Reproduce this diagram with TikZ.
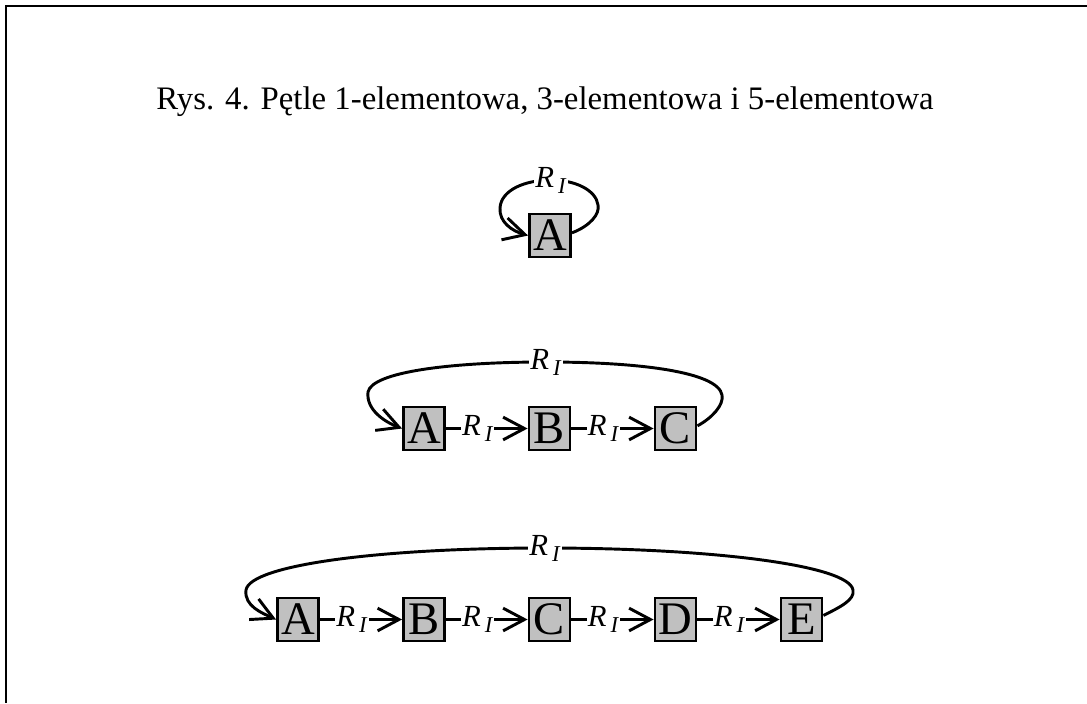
\documentclass[tikz,border=0pt]{standalone}
\usepackage{fontspec}
\setmainfont{Liberation Serif}
\usetikzlibrary{arrows.meta}
\definecolor{boxgray}{RGB}{192,192,192}
\newcommand{\RIlab}{\textit{R}\kern3pt\raisebox{-4.5pt}{\fontsize{17}{17}\selectfont\textit{I}}}
\begin{document}
\begin{tikzpicture}[x=0.75pt,y=-0.75pt,
  elem/.style={draw, line width=1.9pt, fill=boxgray, minimum width=31pt, minimum height=32pt, inner sep=0pt, font=\fontsize{35}{35}\selectfont},
  conn/.style={line width=2.2pt},
  arr/.style={-{Straight Barb[length=16pt,width=17pt]}},
  lbl/.style={fill=white, inner sep=0.8pt, font=\fontsize{23}{23}\selectfont},
  frame/.style={line width=1.6pt}]
\useasboundingbox (0,0) rectangle (1087,703);
\coordinate (ftl) at (6,6);
\coordinate (ftr) at (1087,6);
\coordinate (fbl) at (6,703);
\draw[frame] (ftr) -- (ftl) -- (fbl);
\node[anchor=base, font=\fontsize{24.6}{24.6}\selectfont] (title) at (545,109) {Rys. 4. Pętle 1-elementowa, 3-elementowa i 5-elementowa};
% row 1
\node[elem] (A1) at (550,235.5) {A};
\draw[conn,arr] ([yshift=2pt]A1.east) .. controls (590,226) and (600,214) .. (598,205)
  .. controls (596,190) and (575,180) .. (551,180) node[lbl] (l1) {\RIlab}
  .. controls (525,180) and (501,190) .. (500,208)
  .. controls (499,222) and (512,231) .. (A1.west);
% row 2
\node[elem] (A2) at (424,428.5) {A};
\node[elem] (B2) at (549.5,428.5) {B};
\node[elem] (C2) at (675.5,428.5) {C};
\draw[conn,arr] (A2) -- node[lbl,pos=0.39] (l2a) {\RIlab} (B2);
\draw[conn,arr] (B2) -- node[lbl,pos=0.39] (l2b) {\RIlab} (C2);
\draw[conn,arr] ([yshift=2pt]C2.east) .. controls (712,418) and (724,405) .. (722,395)
  .. controls (718,372) and (640,362) .. (546,362) node[lbl] (l2) {\RIlab}
  .. controls (450,362) and (372,372) .. (368,392)
  .. controls (366,410) and (385,422) .. (A2.west);
% row 3
\node[elem] (A3) at (298,619.5) {A};
\node[elem] (B3) at (424,619.5) {B};
\node[elem] (C3) at (549.5,619.5) {C};
\node[elem] (D3) at (675.5,619.5) {D};
\node[elem] (E3) at (801.5,619.5) {E};
\draw[conn,arr] (A3) -- node[lbl,pos=0.39] (l3a) {\RIlab} (B3);
\draw[conn,arr] (B3) -- node[lbl,pos=0.39] (l3b) {\RIlab} (C3);
\draw[conn,arr] (C3) -- node[lbl,pos=0.39] (l3c) {\RIlab} (D3);
\draw[conn,arr] (D3) -- node[lbl,pos=0.39] (l3d) {\RIlab} (E3);
\draw[conn,arr] ([yshift=3pt]E3.east) .. controls (840,607) and (855,600) .. (853,590)
  .. controls (849,565) and (710,548) .. (545,548) node[lbl] (l3) {\RIlab}
  .. controls (380,548) and (250,565) .. (246,590)
  .. controls (244,606) and (262,613) .. (A3.west);
\end{tikzpicture}
\end{document}
